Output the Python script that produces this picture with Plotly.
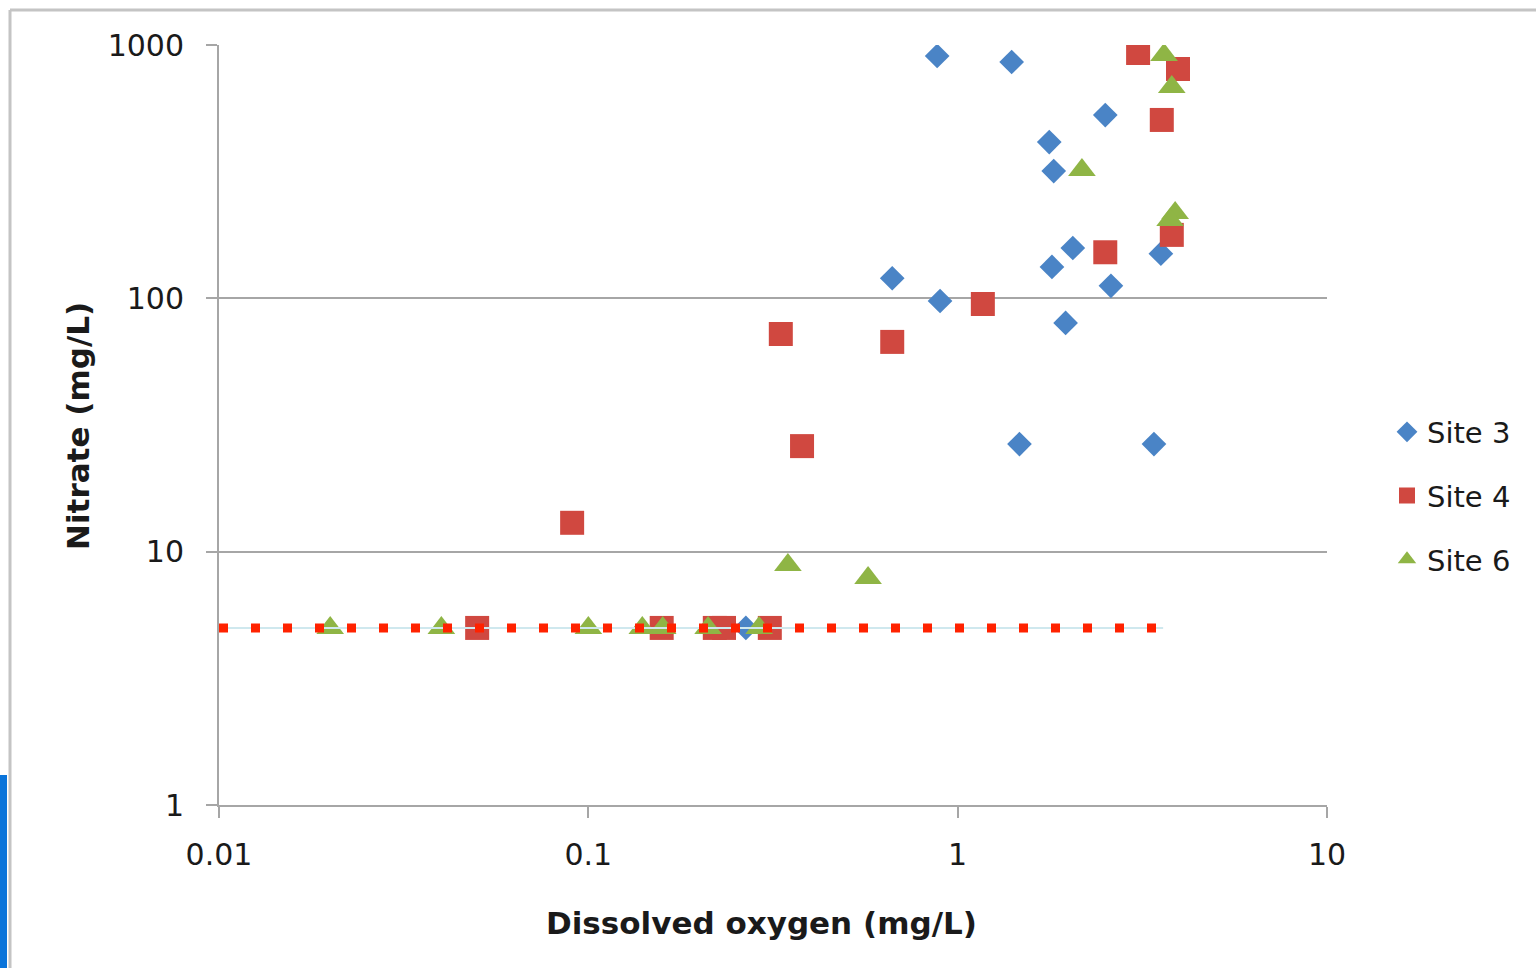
import plotly.graph_objects as go

# ---- data ----
site3_x = [0.88, 1.40, 2.51, 1.77, 1.82, 0.665, 0.896, 2.05, 1.80, 2.60, 1.96, 3.55, 1.47, 3.40, 0.267]
site3_y = [905, 857, 529, 414, 318, 120, 97.6, 158, 133, 112, 80, 150, 26.6, 26.6, 5]

site4_x = [3.08, 3.95, 3.57, 2.51, 3.80, 1.17, 0.665, 0.332, 0.379, 0.0904, 0.05, 0.158, 0.220, 0.233, 0.310]
site4_y = [930, 804, 506, 152, 178, 95, 67.3, 72.3, 26.1, 13.0, 5, 5, 5, 5, 5]

site6_x = [3.62, 3.80, 2.17, 3.88, 3.76, 0.347, 0.572, 0.02, 0.04, 0.10, 0.14, 0.159, 0.211, 0.290]
site6_y = [914, 683, 321, 217, 204, 8.86, 7.87, 5, 5, 5, 5, 5, 5, 5]

limit_x = [0.01, 3.6]
limit_y = [5, 5]

x_ticks = [0.01, 0.1, 1, 10]
x_tick_labels = ["0.01", "0.1", "1", "10"]
y_ticks = [1, 10, 100, 1000]
y_tick_labels = ["1", "10", "100", "1000"]

FONT = "DejaVu Sans"
TXT = "#1a1a1a"
FS_TICK = 30
FS_LEG = 29
FS_TITLE = 31

fig = go.Figure()
fig.add_trace(go.Scatter(x=site3_x, y=site3_y, mode="markers", name="Site 3", legendgroup="a",
                         marker=dict(symbol="diamond", size=19, color="#4A84C6")))
fig.add_trace(go.Scatter(x=site4_x, y=site4_y, mode="markers", name="Site 4", legendgroup="b",
                         marker=dict(symbol="square", size=24, color="#D04840")))
fig.add_trace(go.Scatter(x=site6_x, y=site6_y, mode="markers", name="Site 6", legendgroup="c",
                         marker=dict(symbol="triangle-up", size=24, color="#8FB545")))
fig.add_trace(go.Scatter(x=limit_x, y=limit_y, mode="lines", showlegend=False, hoverinfo="skip",
                         line=dict(color="#CFE8EE", width=2)))
fig.add_trace(go.Scatter(x=limit_x, y=limit_y, mode="lines", showlegend=False, hoverinfo="skip",
                         line=dict(color="#FF2200", width=9, dash="9px,23px")))

# plot area pixels: x 219..1327, y 45..805
L, R, T, B = 219, 1327, 45, 805
W, H = R - L, B - T
def px(p):
    return (p - L) / W
def py(p):
    return (B - p) / H

shapes = [
    dict(type="line", xref="paper", yref="paper", x0=px(10), x1=px(1540), y0=py(10), y1=py(10),
         line=dict(color="#C4C4C4", width=3)),
    dict(type="line", xref="paper", yref="paper", x0=px(10), x1=px(10), y0=py(10), y1=py(972),
         line=dict(color="#C4C4C4", width=3)),
    dict(type="rect", xref="paper", yref="paper", x0=px(-2), x1=px(7), y0=py(775), y1=py(972),
         line=dict(width=0), fillcolor="#0A74DA"),
]

fig.update_layout(
    width=1536, height=968,
    margin=dict(l=L, r=1536 - R, t=T, b=968 - B),
    paper_bgcolor="white", plot_bgcolor="white",
    font=dict(family=FONT, size=FS_TICK, color=TXT),
    showlegend=True,
    legend=dict(x=px(1387), y=py(496), xanchor="left", yanchor="middle",
                font=dict(family=FONT, size=FS_LEG, color=TXT), tracegroupgap=23,
                bgcolor="rgba(0,0,0,0)", itemwidth=30),
    shapes=shapes,
    annotations=[
        dict(text="<b>Dissolved oxygen (mg/L)</b>", xref="paper", yref="paper",
             x=px(761), y=py(923), xanchor="center", yanchor="middle", showarrow=False,
             font=dict(family=FONT, size=FS_TITLE, color=TXT)),
        dict(text="<b>Nitrate (mg/L)</b>", xref="paper", yref="paper", textangle=-90,
             x=px(78), y=py(426), xanchor="center", yanchor="middle", showarrow=False,
             font=dict(family=FONT, size=FS_TITLE, color=TXT)),
    ],
)
fig.update_xaxes(type="log", range=[-2, 1], tickvals=x_ticks, ticktext=x_tick_labels,
                 showgrid=False, zeroline=False, showline=True, linecolor="#A6A6A6", linewidth=2,
                 ticks="outside", ticklen=11, tickwidth=2, tickcolor="#A6A6A6", ticklabelstandoff=11,
                 tickfont=dict(family=FONT, size=FS_TICK, color=TXT))
fig.update_yaxes(type="log", range=[0, 3], tickvals=y_ticks, ticktext=y_tick_labels,
                 showgrid=True, gridcolor="#A6A6A6", gridwidth=2, zeroline=False,
                 showline=True, linecolor="#A6A6A6", linewidth=2,
                 ticks="outside", ticklen=11, tickwidth=2, tickcolor="#A6A6A6", ticklabelstandoff=16,
                 tickfont=dict(family=FONT, size=FS_TICK, color=TXT))

fig.write_html("out.html")
